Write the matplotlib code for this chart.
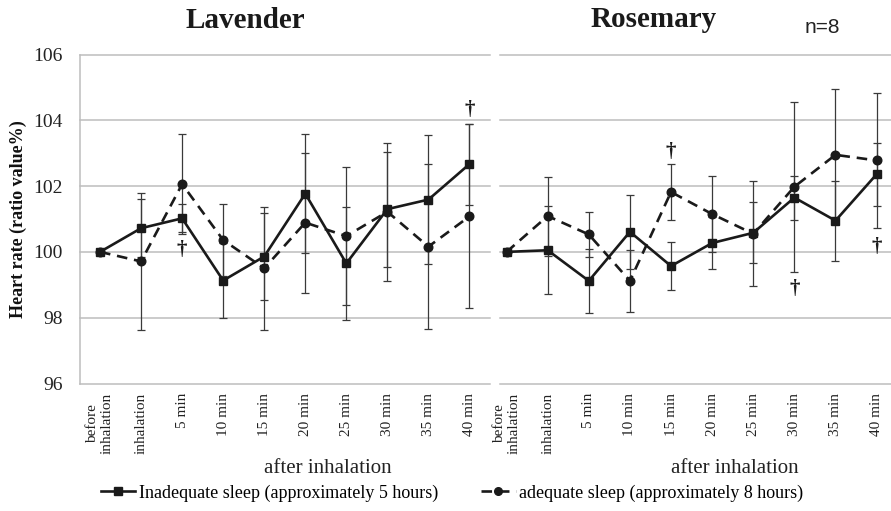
import matplotlib
matplotlib.use("Agg")
import matplotlib.pyplot as plt
from matplotlib.lines import Line2D
import numpy as np

# ---------------- data ----------------
categories = ["before\ninhalation", "inhalation", "5 min", "10 min", "15 min",
              "20 min", "25 min", "30 min", "35 min", "40 min"]
y_ticks = [96, 98, 100, 102, 104, 106]

lav_inadequate = [100.0, 100.72, 101.02, 99.13, 99.86, 101.77, 99.65, 101.30, 101.59, 102.67]
lav_inadequate_err = [0, 0.89, 0.43, 1.14, 1.33, 1.80, 1.72, 1.75, 1.95, 1.23]
lav_adequate = [100.0, 99.71, 102.06, 100.36, 99.50, 100.89, 100.48, 101.22, 100.16, 101.08]
lav_adequate_err = [0, 2.07, 1.52, 1.09, 1.87, 2.13, 2.09, 2.10, 2.50, 2.80]

ros_inadequate = [100.0, 100.05, 99.12, 100.61, 99.57, 100.27, 100.58, 101.65, 100.95, 102.36]
ros_inadequate_err = [0, 1.33, 0.97, 1.12, 0.73, 0.78, 0.93, 0.67, 1.22, 0.96]
ros_adequate = [100.0, 101.09, 100.53, 99.12, 101.82, 101.15, 100.55, 101.98, 102.95, 102.78]
ros_adequate_err = [0, 1.20, 0.69, 0.95, 0.86, 1.15, 1.60, 2.58, 1.99, 2.06]

lav_dagger_idx = [2, 9]
lav_dagger_y = [100.05, 104.3]
ros_dagger_idx = [4, 7, 9]
ros_dagger_y = [103.03, 98.88, 100.15]

label_inadequate = "Inadequate sleep (approximately 5 hours)"
label_adequate = "adequate sleep (approximately 8 hours)"

# ---------------- style ----------------
SERIF = ["Liberation Serif", "DejaVu Serif"]
SANS = ["Liberation Sans", "DejaVu Sans"]
LINE_C = "#1a1a1a"
ERR_C = "#3a3a3a"
GRID_C = "#bdbdbd"
DASH = (0, (4.0, 2.6))

W, H = 891, 511
fig = plt.figure(figsize=(W / 100, H / 100), dpi=100)

def fx(px):
    return px / W

def fy(py):
    return 1 - py / H

y_top_px, y_bot_px = 54.5, 383.5
ax1 = fig.add_axes([fx(79.5), fy(y_bot_px), fx(490 - 79.5), (y_bot_px - y_top_px) / H])
ax2 = fig.add_axes([fx(500), fy(y_bot_px), fx(391), (y_bot_px - y_top_px) / H])

x = np.arange(len(categories))

def draw_panel(ax, inad, inad_err, adeq, adeq_err, d_idx, d_y, xlim):
    ax.set_xlim(*xlim)
    ax.set_ylim(96, 106)
    for s in ax.spines.values():
        s.set_visible(False)
    for t in y_ticks:
        ax.axhline(t, color=GRID_C, lw=1.1, zorder=0, clip_on=False)
    # error bars
    ax.errorbar(x, adeq, yerr=adeq_err, fmt="none", ecolor=ERR_C, elinewidth=0.9,
                capsize=3.0, capthick=0.9, zorder=2)
    ax.errorbar(x, inad, yerr=inad_err, fmt="none", ecolor=ERR_C, elinewidth=0.9,
                capsize=3.0, capthick=0.9, zorder=2)
    # lines
    ax.plot(x, adeq, linestyle=DASH, color=LINE_C, lw=1.9, marker="o", ms=6.2,
            mfc=LINE_C, mec=LINE_C, zorder=3)
    ax.plot(x, inad, linestyle="-", color=LINE_C, lw=1.9, marker="s", ms=6.3,
            mfc=LINE_C, mec=LINE_C, zorder=4)
    for i, yy in zip(d_idx, d_y):
        ax.text(x[i], yy, "\u2020", ha="center", va="center", fontsize=15,
                fontweight="bold", family=SERIF, color=LINE_C, zorder=5)
    ax.set_xticks(x)
    ax.set_xticklabels(categories, rotation=90, family=SERIF, fontsize=11,
                       va="top", ha="center", multialignment="center", color="#222222")
    ax.tick_params(axis="x", length=0, pad=6.5)
    ax.set_yticks(y_ticks)
    ax.tick_params(axis="y", length=0)

draw_panel(ax1, lav_inadequate, lav_inadequate_err, lav_adequate, lav_adequate_err,
           lav_dagger_idx, lav_dagger_y, (-0.5, 9.5))
draw_panel(ax2, ros_inadequate, ros_inadequate_err, ros_adequate, ros_adequate_err,
           ros_dagger_idx, ros_dagger_y, (-0.16, 9.35))

# left spine for the left panel
ax1.spines["left"].set_visible(True)
ax1.spines["left"].set_color(GRID_C)
ax1.spines["left"].set_linewidth(1.1)
ax1.set_yticklabels([str(t) for t in y_ticks], family=SERIF, fontsize=14, color="#222222")
ax1.tick_params(axis="y", pad=12)
ax2.set_yticklabels([])

# y-axis title
fig.text(fx(18), fy(219), "Heart rate (ratio value%)", family=SERIF, fontsize=13,
         fontweight="bold", color="#111111", rotation=90, ha="center", va="center")

# x-axis titles
fig.text(fx(328), fy(473), "after inhalation", family=SERIF, fontsize=15,
         ha="center", va="baseline", color="#222222")
fig.text(fx(735), fy(473), "after inhalation", family=SERIF, fontsize=15,
         ha="center", va="baseline", color="#222222")

# panel titles
fig.text(fx(245), fy(28), "Lavender", family=SERIF, fontsize=21, fontweight="bold",
         ha="center", va="baseline", color="#1a1a1a")
fig.text(fx(654), fy(27), "Rosemary", family=SERIF, fontsize=21, fontweight="bold",
         ha="center", va="baseline", color="#1a1a1a")
fig.text(fx(822), fy(33), "n=8", family=SANS, fontsize=15, ha="center",
         va="baseline", color="#222222")

# legend
handles = [
    Line2D([], [], color=LINE_C, lw=1.9, ls="-", marker="s", ms=5.5),
    Line2D([], [], color=LINE_C, lw=1.9, ls=DASH, marker="o", ms=5.5),
]
fig.legend(handles, [label_inadequate, label_adequate], loc="center",
           bbox_to_anchor=(fx(452), fy(493)), ncol=2, frameon=False,
           prop={"family": SERIF, "size": 13}, handlelength=1.9,
           handletextpad=0.2, columnspacing=2.4, borderaxespad=0)

fig.savefig("out.png", dpi=100)
